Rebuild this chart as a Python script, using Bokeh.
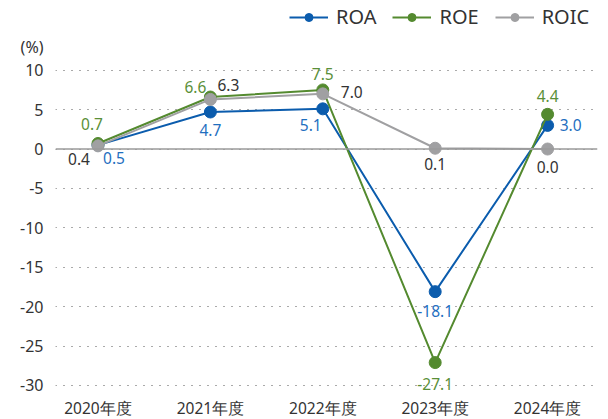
from bokeh.plotting import figure
from bokeh.models import (ColumnDataSource, LabelSet, Span, Range1d, FixedTicker,
                          Legend, LegendItem)
from bokeh.core.properties import value
from bokeh.embed import file_html
from bokeh.resources import INLINE

years = ["2020年度", "2021年度", "2022年度", "2023年度", "2024年度"]
roa = [0.5, 4.7, 5.1, -18.1, 3.0]
roe = [0.7, 6.6, 7.5, -27.1, 4.4]
roic = [0.4, 6.3, 7.0, 0.1, 0.0]
y_ticks = [10, 5, 0, -5, -10, -15, -20, -25, -30]
unit_label = "(%)"
unit_pos = 13.0

# label offsets (screen px), per series
roa_dx = [16, 0, -12, 0, 23]
roa_dy = [-13, -18, -16, -19, 0]
roe_dx = [-6, -15, 0, 0, 0]
roe_dy = [20, 10, 16, -21, 18]
roic_dx = [-19, 18, 29, 0, 0]
roic_dy = [-13, 14, 2, -16, -18]

BLUE = "#0b5cad"
GREEN = "#548a2f"
GRAY = "#a0a0a2"
BLUE_T = "#1f6fbf"
GREEN_T = "#5a8f38"
DARK_T = "#333333"
FONT = "Noto Sans"

xs = list(range(len(years)))

p = figure(frame_width=542, frame_height=392, output_backend="svg", toolbar_location=None,
           x_range=Range1d(-0.378, 4.444), y_range=Range1d(-30.9, 18.85),
           min_border_left=55, min_border_right=3, min_border_top=0,
           min_border_bottom=0, title=None)
p.outline_line_color = None
p.background_fill_color = "white"
p.border_fill_color = "white"

p.xgrid.visible = False
p.ygrid.grid_line_color = "#555555"
p.ygrid.grid_line_dash = "1 7"
p.ygrid.grid_line_width = 1
p.ygrid.ticker = FixedTicker(ticks=y_ticks)

p.yaxis.ticker = FixedTicker(ticks=y_ticks + [unit_pos])
overrides = {t: str(t) for t in y_ticks}
overrides[unit_pos] = unit_label
p.yaxis.major_label_overrides = overrides
p.xaxis.ticker = FixedTicker(ticks=xs)
p.xaxis.major_label_overrides = {i: y for i, y in enumerate(years)}
for ax in (p.xaxis[0], p.yaxis[0]):
    ax.axis_line_color = None
    ax.major_tick_line_color = None
    ax.major_tick_out = 0
    ax.major_tick_in = 0
    ax.minor_tick_line_color = None
    ax.major_label_text_font = FONT
    ax.major_label_text_font_size = "16px"
    ax.major_label_text_color = DARK_T
p.xaxis.major_label_text_font_size = "15.5px"
p.yaxis.major_label_standoff = 12
p.xaxis.major_label_standoff = 4

p.add_layout(Span(location=0, dimension="width", line_color="#9a9a9a", line_width=1.5))

series = [("ROA", roa, BLUE, BLUE_T, roa_dx, roa_dy),
          ("ROE", roe, GREEN, GREEN_T, roe_dx, roe_dy),
          ("ROIC", roic, GRAY, DARK_T, roic_dx, roic_dy)]

items = []
for name, vals, col, tcol, dx, dy in series:
    src = ColumnDataSource(dict(x=xs, y=vals, t=[f"{v:.1f}" for v in vals], dx=dx, dy=dy))
    ln = p.line("x", "y", source=src, line_color=col, line_width=2)
    sc = p.scatter("x", "y", source=src, size=12, fill_color=col, line_color=col)
    items.append(LegendItem(label=name, renderers=[ln, sc]))
    p.add_layout(LabelSet(x="x", y="y", text="t", source=src, x_offset="dx", y_offset="dy",
                          text_align="center", text_baseline="middle",
                          text_font=value(FONT), text_font_size=value("15.5px"),
                          text_color=tcol))

legend = Legend(items=items, orientation="horizontal", location=(234, 362),
                label_text_font=FONT, label_text_font_size="20px",
                label_text_color=DARK_T, glyph_width=39, glyph_height=20,
                spacing=16, padding=0, margin=0, border_line_color=None,
                background_fill_alpha=0, label_standoff=8)
p.add_layout(legend, "center")

open("out.html", "w").write(file_html(p, INLINE))
